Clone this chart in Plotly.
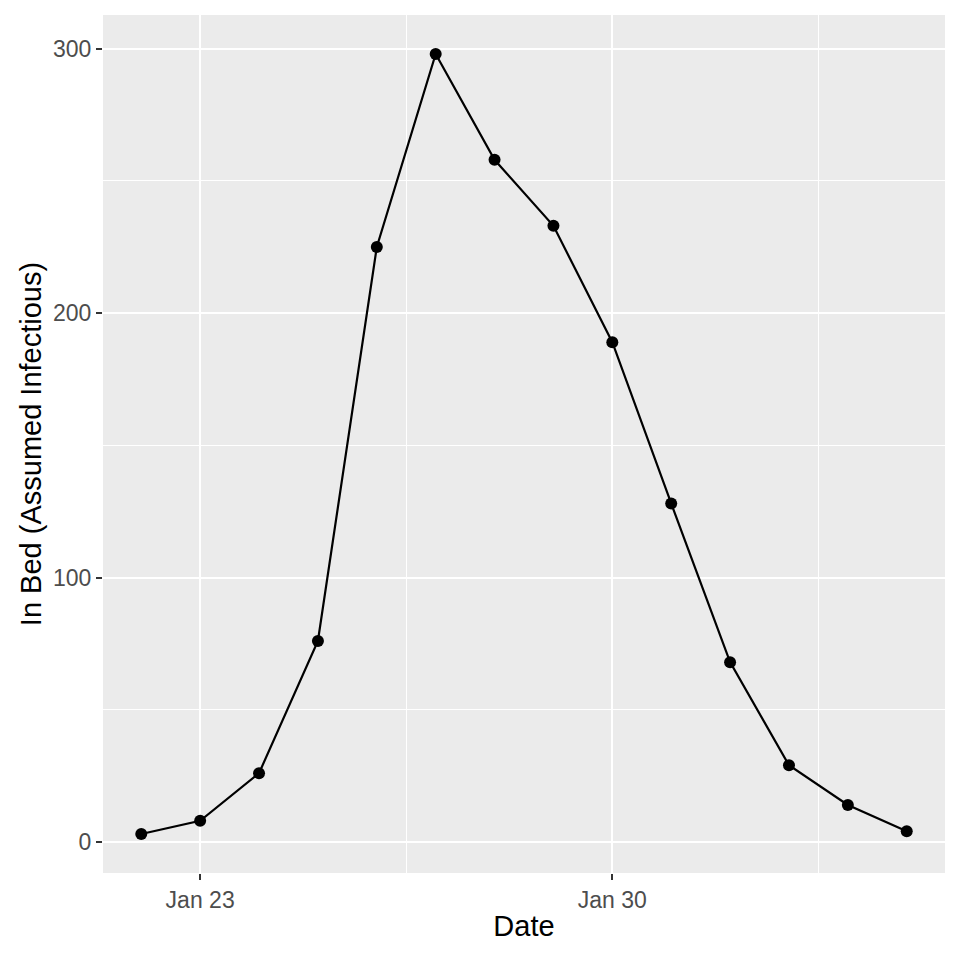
import plotly.graph_objects as go

dates = ["1978-01-22", "1978-01-23", "1978-01-24", "1978-01-25", "1978-01-26",
         "1978-01-27", "1978-01-28", "1978-01-29", "1978-01-30", "1978-01-31",
         "1978-02-01", "1978-02-02", "1978-02-03", "1978-02-04"]
in_bed = [3, 8, 26, 76, 225, 298, 258, 233, 189, 128, 68, 29, 14, 4]

x_major = ["1978-01-23", "1978-01-30"]
x_major_labels = ["Jan 23", "Jan 30"]
x_minor = ["1978-01-26 12:00", "1978-02-02 12:00"]
y_major = [0, 100, 200, 300]
y_minor = [50, 150, 250]

fig = go.Figure()
fig.add_trace(go.Scatter(
    x=dates, y=in_bed, mode="lines+markers",
    line=dict(color="black", width=2.2),
    marker=dict(color="black", size=12),
    showlegend=False,
))

font = "Liberation Sans, Arial, sans-serif"
fig.update_layout(
    width=944, height=944,
    margin=dict(l=95, r=7, t=7, b=79),
    paper_bgcolor="white",
    plot_bgcolor="#ebebeb",
    font=dict(family=font, color="black"),
    xaxis=dict(
        range=["1978-01-21 08:24", "1978-02-04 15:36"],
        tickmode="array", tickvals=x_major, ticktext=x_major_labels,
        showgrid=True, gridcolor="white", gridwidth=2.2,
        minor=dict(tickmode="array", tickvals=x_minor, showgrid=True,
                   gridcolor="white", gridwidth=1.1, ticks=""),
        ticks="outside", ticklen=6, tickwidth=2.2, tickcolor="#333333",
        tickfont=dict(size=23, color="#4d4d4d", family=font),
        title=dict(text="Date", font=dict(size=29, color="black", family=font), standoff=4),
        zeroline=False, showline=False,
    ),
    yaxis=dict(
        range=[-11.75, 312.75],
        tickmode="array", tickvals=y_major,
        showgrid=True, gridcolor="white", gridwidth=2.2,
        minor=dict(tickmode="array", tickvals=y_minor, showgrid=True,
                   gridcolor="white", gridwidth=1.1, ticks=""),
        ticks="outside", ticklen=6, tickwidth=2.2, tickcolor="#333333",
        tickfont=dict(size=23, color="#4d4d4d", family=font),
        title=dict(text="In Bed (Assumed Infectious)", font=dict(size=29, color="black", family=font), standoff=2),
        zeroline=False, showline=False,
    ),
)

fig.write_html("out.html")
